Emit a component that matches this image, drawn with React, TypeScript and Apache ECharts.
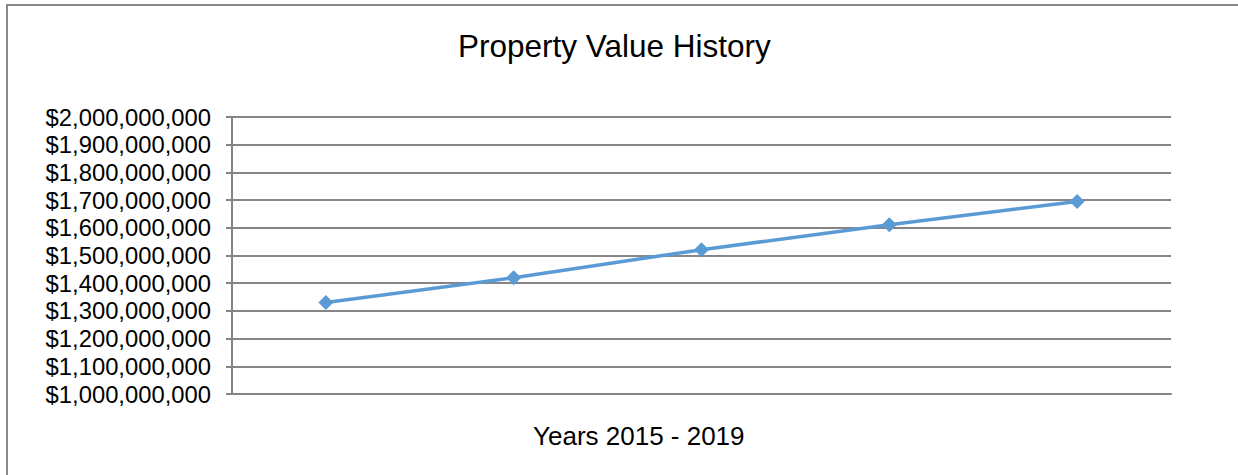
import React, { useEffect, useRef } from "react";
import * as echarts from "echarts";

const years = ["2015", "2016", "2017", "2018", "2019"];
const propertyValues = [1330000000, 1420000000, 1521000000, 1611000000, 1695000000];
const chartTitle = "Property Value History";
const xAxisTitle = "Years 2015 - 2019";

const fmt = (v: number) => "$" + v.toLocaleString("en-US");

export default function App() {
  const ref = useRef<HTMLDivElement>(null);
  useEffect(() => {
    document.body.style.margin = "0";
    const chart = echarts.init(ref.current!, null, { renderer: "svg" });
    const font = "'Liberation Sans', Arial, sans-serif";
    chart.setOption({
      animation: false,
      backgroundColor: "#ffffff",
      title: [
        {
          text: chartTitle,
          left: 458,
          top: 30,
          padding: 0,
          textStyle: { fontFamily: font, fontSize: 31.5, fontWeight: "normal", color: "#000" },
        },
        {
          text: xAxisTitle,
          left: 533,
          top: 423,
          padding: 0,
          textStyle: { fontFamily: font, fontSize: 26, fontWeight: "normal", color: "#000" },
        },
      ],
      graphic: [
        {
          type: "rect",
          shape: { x: 7, y: 5, width: 1300, height: 600 },
          style: { fill: "none", stroke: "#8a8a8a", lineWidth: 2 },
          silent: true,
        },
      ],
      grid: { left: 232, right: 67, top: 117, bottom: 81, containLabel: false },
      xAxis: {
        type: "category",
        data: years,
        boundaryGap: true,
        axisLine: { show: true, lineStyle: { color: "#858585", width: 2 } },
        axisTick: { show: false },
        axisLabel: { show: false },
        splitLine: { show: false },
      },
      yAxis: {
        type: "value",
        min: 1000000000,
        max: 2000000000,
        interval: 100000000,
        axisLine: { show: true, lineStyle: { color: "#858585", width: 2 } },
        axisTick: { show: true, length: 6, lineStyle: { color: "#858585", width: 2 } },
        axisLabel: {
          margin: 21,
          fontFamily: font,
          fontSize: 23.8,
          color: "#000",
          formatter: (v: number) => fmt(v),
        },
        splitLine: { show: true, lineStyle: { color: "#858585", width: 2 } },
      },
      series: [
        {
          type: "line",
          data: propertyValues,
          symbol: "diamond",
          symbolSize: 15,
          lineStyle: { color: "#5B9BD5", width: 3.5 },
          itemStyle: { color: "#5B9BD5" },
        },
      ],
    });
    return () => chart.dispose();
  }, []);
  return <div ref={ref} style={{ width: 1238, height: 475 }} />;
}
